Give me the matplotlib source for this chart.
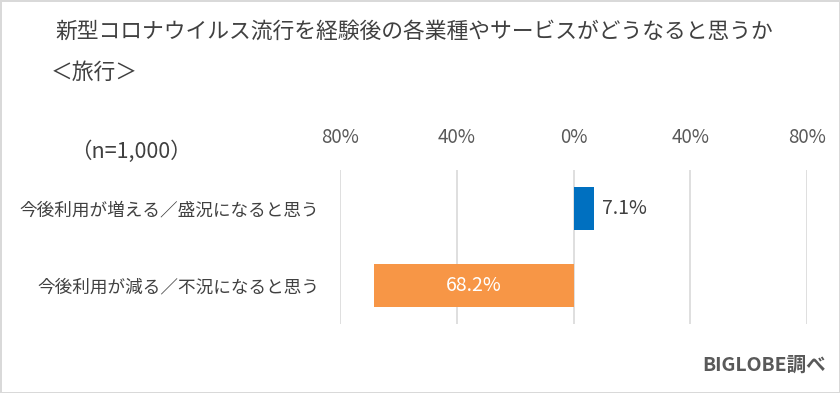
import matplotlib.pyplot as plt

plt.rcParams['font.family'] = ['Noto Sans CJK JP', 'DejaVu Sans']

# データ
categories = ["今後利用が増える／盛況になると思う", "今後利用が減る／不況になると思う"]
values = [7.1, -68.2]
bar_colors = ["#0070C0", "#F79646"]
tick_values = [-80, -40, 0, 40, 80]
tick_labels = ["80%", "40%", "0%", "40%", "80%"]

title = "新型コロナウイルス流行を経験後の各業種やサービスがどうなると思うか"
subtitle = "＜旅行＞"
note = "（n=1,000）"
source = "BIGLOBE調べ"

W, H = 840, 393
fig = plt.figure(figsize=(W / 100, H / 100), dpi=100)
fig.patch.set_edgecolor("#D9D9D9")
fig.patch.set_linewidth(2)

# 軸の位置 (ピクセルから換算)
left, right, top, bottom = 340, 807, 170, 324
ax = fig.add_axes([left / W, 1 - bottom / H, (right - left) / W, (bottom - top) / H])

ypos = list(range(len(categories)))
ax.barh(ypos, values, height=0.55, color=bar_colors, zorder=3)

ax.set_xlim(-80, 80)
ax.set_ylim(1.5, -0.5)
ax.set_xticks(tick_values)
ax.set_xticklabels(tick_labels)
ax.xaxis.tick_top()
ax.tick_params(axis='x', length=0, pad=16, labelsize=13.5, labelcolor="#595959")
ax.set_yticks(ypos)
ax.set_yticklabels(categories)
ax.tick_params(axis='y', length=0, pad=15, labelsize=12.7, labelcolor="#404040")
ax.grid(axis='x', color="#D9D9D9", linewidth=1.2, zorder=0)
for s in ax.spines.values():
    s.set_visible(False)

# 値ラベル
for y, v in zip(ypos, values):
    if v > 0:
        ax.text(v + 2.5, y, f"{abs(v):.1f}%", va='center', ha='left',
                fontsize=14, color="#404040")
    else:
        ax.text(v / 2, y, f"{abs(v):.1f}%", va='center', ha='center',
                fontsize=14, color="white")

fig.text(55 / W, 1 - 32 / H, title, fontsize=15.7, color="#404040", va='center', ha='left')
fig.text(51 / W, 1 - 73 / H, subtitle, fontsize=15.7, color="#404040", va='center', ha='left')
fig.text(70 / W, 1 - 152 / H, note, fontsize=15.5, color="#404040", va='center', ha='left')
fig.text(826 / W, 1 - 365 / H, source, fontsize=14, fontweight='bold', color="#595959",
         va='center', ha='right')

fig.savefig("out.png", dpi=100)
